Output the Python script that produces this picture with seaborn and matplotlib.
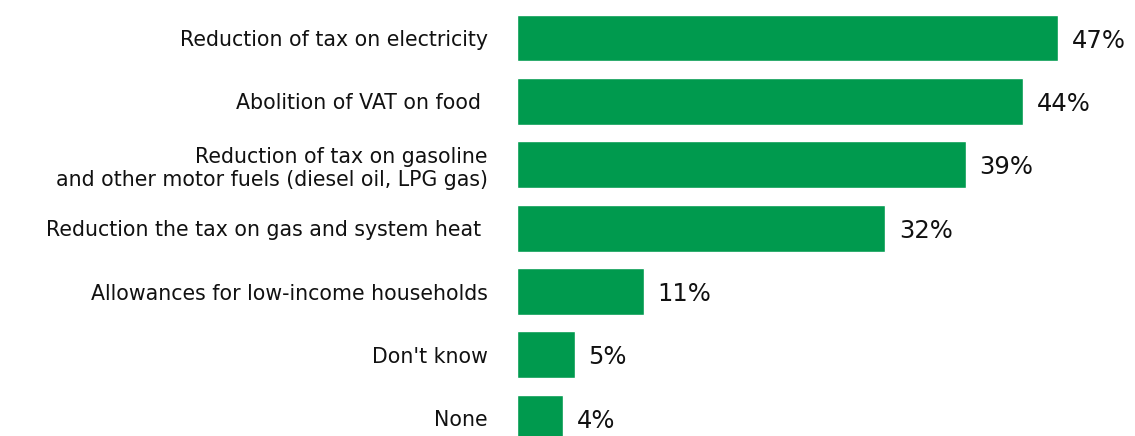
import matplotlib
matplotlib.use("Agg")
import matplotlib.pyplot as plt
import seaborn as sns
import pandas as pd

categories = [
    "Reduction of tax on electricity",
    "Abolition of VAT on food ",
    "Reduction of tax on gasoline\nand other motor fuels (diesel oil, LPG gas)",
    "Reduction the tax on gas and system heat ",
    "Allowances for low-income households",
    "Don't know",
    "None",
]
shares = [47, 44, 39, 32, 11, 5, 4]

df = pd.DataFrame({"answer": categories, "share": shares})

sns.set_style("white")
plt.rcParams["font.family"] = ["DejaVu Sans"]

fig = plt.figure(figsize=(11.35, 4.36), dpi=100)
ax = fig.add_axes([517 / 1135, 0, 1 - 517 / 1135, 1])

sns.barplot(data=df, x="share", y="answer", orient="h", color="#009A4E",
            saturation=1, width=0.74, ax=ax)

for i, v in enumerate(shares):
    ax.text(v + 1.2, i + 0.04, f"{v}%", va="center", ha="left",
            fontsize=17.5, color="#111111")

ax.set_xlim(0, 53.7)
ax.set_ylim(6.28, -0.6)
ax.set_xlabel("")
ax.set_ylabel("")
ax.set_xticks([])
ax.tick_params(axis="y", length=0, pad=21, labelsize=14.8, labelcolor="#111111")
for lab in ax.get_yticklabels():
    lab.set_multialignment("right")
sns.despine(ax=ax, left=True, bottom=True)

fig.savefig("out.png", dpi=100)
